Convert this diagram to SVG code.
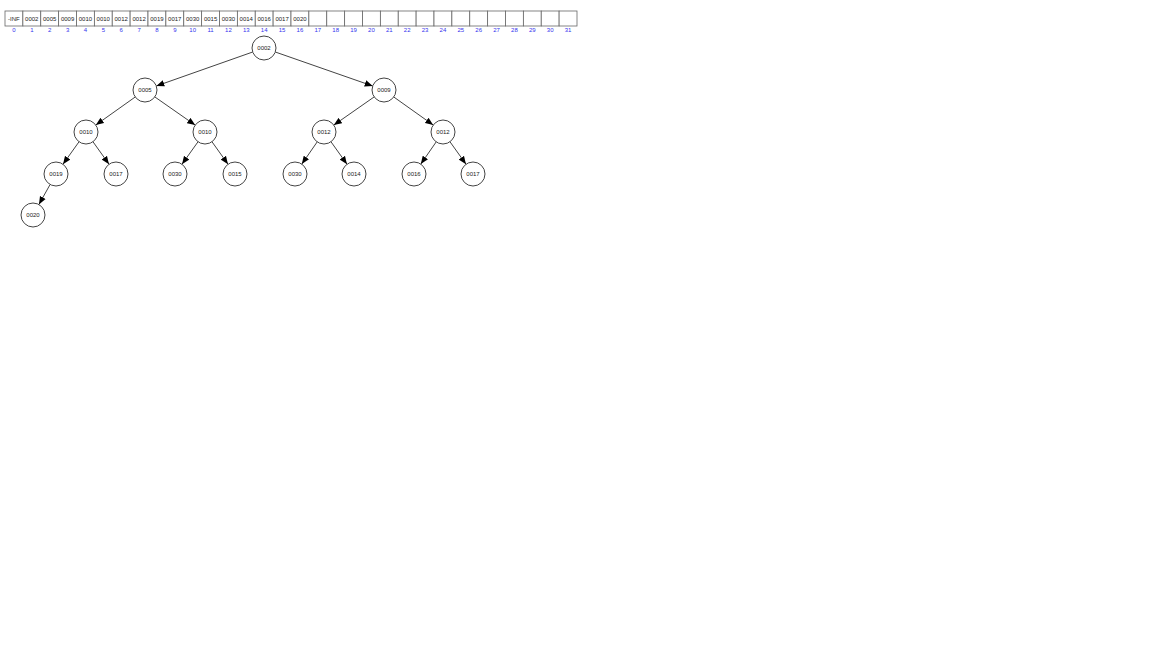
<svg xmlns="http://www.w3.org/2000/svg" width="1152" height="648" viewBox="0 0 1152 648">
<style>
.cell{fill:#fff;stroke:#666;stroke-width:0.8}
.ct{font-family:"Liberation Sans",Arial,sans-serif;font-size:6px;fill:#222;text-anchor:middle}
.idx{font-family:"Liberation Sans",Arial,sans-serif;font-size:6px;fill:#3333ee;text-anchor:middle}
.node circle{fill:#fff;stroke:#444;stroke-width:1}
.node text{font-family:"Liberation Sans",Arial,sans-serif;font-size:6px;fill:#222;text-anchor:middle}
.edges line{stroke:#444;stroke-width:1;marker-end:url(#arr)}
</style>
<defs>
<marker id="arr" viewBox="0 0 10 8" refX="10" refY="4" markerWidth="8" markerHeight="7" markerUnits="userSpaceOnUse" orient="auto">
<path d="M0,0 L10,4 L0,8 z" fill="#000"/>
</marker>
</defs>
<rect width="1152" height="648" fill="#fff"/>
<g id="array">
<rect class="cell" x="5" y="11" width="17.875" height="15"/>
<rect class="cell" x="22.875" y="11" width="17.875" height="15"/>
<rect class="cell" x="40.75" y="11" width="17.875" height="15"/>
<rect class="cell" x="58.625" y="11" width="17.875" height="15"/>
<rect class="cell" x="76.5" y="11" width="17.875" height="15"/>
<rect class="cell" x="94.375" y="11" width="17.875" height="15"/>
<rect class="cell" x="112.25" y="11" width="17.875" height="15"/>
<rect class="cell" x="130.125" y="11" width="17.875" height="15"/>
<rect class="cell" x="148" y="11" width="17.875" height="15"/>
<rect class="cell" x="165.875" y="11" width="17.875" height="15"/>
<rect class="cell" x="183.75" y="11" width="17.875" height="15"/>
<rect class="cell" x="201.625" y="11" width="17.875" height="15"/>
<rect class="cell" x="219.5" y="11" width="17.875" height="15"/>
<rect class="cell" x="237.375" y="11" width="17.875" height="15"/>
<rect class="cell" x="255.25" y="11" width="17.875" height="15"/>
<rect class="cell" x="273.125" y="11" width="17.875" height="15"/>
<rect class="cell" x="291" y="11" width="17.875" height="15"/>
<rect class="cell" x="308.875" y="11" width="17.875" height="15"/>
<rect class="cell" x="326.75" y="11" width="17.875" height="15"/>
<rect class="cell" x="344.625" y="11" width="17.875" height="15"/>
<rect class="cell" x="362.5" y="11" width="17.875" height="15"/>
<rect class="cell" x="380.375" y="11" width="17.875" height="15"/>
<rect class="cell" x="398.25" y="11" width="17.875" height="15"/>
<rect class="cell" x="416.125" y="11" width="17.875" height="15"/>
<rect class="cell" x="434" y="11" width="17.875" height="15"/>
<rect class="cell" x="451.875" y="11" width="17.875" height="15"/>
<rect class="cell" x="469.75" y="11" width="17.875" height="15"/>
<rect class="cell" x="487.625" y="11" width="17.875" height="15"/>
<rect class="cell" x="505.5" y="11" width="17.875" height="15"/>
<rect class="cell" x="523.375" y="11" width="17.875" height="15"/>
<rect class="cell" x="541.25" y="11" width="17.875" height="15"/>
<rect class="cell" x="559.125" y="11" width="17.875" height="15"/>
<text class="ct" x="13.9" y="20.5">-INF</text>
<text class="ct" x="31.8" y="20.5">0002</text>
<text class="ct" x="49.7" y="20.5">0005</text>
<text class="ct" x="67.6" y="20.5">0009</text>
<text class="ct" x="85.4" y="20.5">0010</text>
<text class="ct" x="103.3" y="20.5">0010</text>
<text class="ct" x="121.2" y="20.5">0012</text>
<text class="ct" x="139.1" y="20.5">0012</text>
<text class="ct" x="156.9" y="20.5">0019</text>
<text class="ct" x="174.8" y="20.5">0017</text>
<text class="ct" x="192.7" y="20.5">0030</text>
<text class="ct" x="210.6" y="20.5">0015</text>
<text class="ct" x="228.4" y="20.5">0030</text>
<text class="ct" x="246.3" y="20.5">0014</text>
<text class="ct" x="264.2" y="20.5">0016</text>
<text class="ct" x="282.1" y="20.5">0017</text>
<text class="ct" x="299.9" y="20.5">0020</text>
<text class="idx" x="13.9" y="32">0</text>
<text class="idx" x="31.8" y="32">1</text>
<text class="idx" x="49.7" y="32">2</text>
<text class="idx" x="67.6" y="32">3</text>
<text class="idx" x="85.4" y="32">4</text>
<text class="idx" x="103.3" y="32">5</text>
<text class="idx" x="121.2" y="32">6</text>
<text class="idx" x="139.1" y="32">7</text>
<text class="idx" x="156.9" y="32">8</text>
<text class="idx" x="174.8" y="32">9</text>
<text class="idx" x="192.7" y="32">10</text>
<text class="idx" x="210.6" y="32">11</text>
<text class="idx" x="228.4" y="32">12</text>
<text class="idx" x="246.3" y="32">13</text>
<text class="idx" x="264.2" y="32">14</text>
<text class="idx" x="282.1" y="32">15</text>
<text class="idx" x="299.9" y="32">16</text>
<text class="idx" x="317.8" y="32">17</text>
<text class="idx" x="335.7" y="32">18</text>
<text class="idx" x="353.6" y="32">19</text>
<text class="idx" x="371.4" y="32">20</text>
<text class="idx" x="389.3" y="32">21</text>
<text class="idx" x="407.2" y="32">22</text>
<text class="idx" x="425.1" y="32">23</text>
<text class="idx" x="442.9" y="32">24</text>
<text class="idx" x="460.8" y="32">25</text>
<text class="idx" x="478.7" y="32">26</text>
<text class="idx" x="496.6" y="32">27</text>
<text class="idx" x="514.4" y="32">28</text>
<text class="idx" x="532.3" y="32">29</text>
<text class="idx" x="550.2" y="32">30</text>
<text class="idx" x="568.1" y="32">31</text>
</g>
<g class="edges" id="connectors">
<line x1="252.7" y1="52" x2="156.3" y2="86"/>
<line x1="275.3" y1="52" x2="372.7" y2="86"/>
<line x1="135.2" y1="97" x2="95.8" y2="125"/>
<line x1="154.8" y1="96.9" x2="195.2" y2="125.1"/>
<line x1="374.2" y1="96.9" x2="333.8" y2="125.1"/>
<line x1="393.8" y1="97" x2="433.2" y2="125"/>
<line x1="79" y1="141.8" x2="63" y2="164.2"/>
<line x1="93" y1="141.8" x2="109" y2="164.2"/>
<line x1="198" y1="141.8" x2="182" y2="164.2"/>
<line x1="212" y1="141.8" x2="228" y2="164.2"/>
<line x1="317.2" y1="141.9" x2="301.8" y2="164.1"/>
<line x1="331" y1="141.8" x2="347" y2="164.2"/>
<line x1="436.2" y1="141.9" x2="420.8" y2="164.1"/>
<line x1="450" y1="141.8" x2="466" y2="164.2"/>
<line x1="50.1" y1="184.5" x2="38.9" y2="204.5"/>
</g>
<g id="n1" class="node"><circle cx="264" cy="48" r="12"/><text x="264" y="50">0002</text></g>
<g id="n2" class="node"><circle cx="145" cy="90" r="12"/><text x="145" y="92">0005</text></g>
<g id="n3" class="node"><circle cx="384" cy="90" r="12"/><text x="384" y="92">0009</text></g>
<g id="n4" class="node"><circle cx="86" cy="132" r="12"/><text x="86" y="134">0010</text></g>
<g id="n5" class="node"><circle cx="205" cy="132" r="12"/><text x="205" y="134">0010</text></g>
<g id="n6" class="node"><circle cx="324" cy="132" r="12"/><text x="324" y="134">0012</text></g>
<g id="n7" class="node"><circle cx="443" cy="132" r="12"/><text x="443" y="134">0012</text></g>
<g id="n8" class="node"><circle cx="56" cy="174" r="12"/><text x="56" y="176">0019</text></g>
<g id="n9" class="node"><circle cx="116" cy="174" r="12"/><text x="116" y="176">0017</text></g>
<g id="n10" class="node"><circle cx="175" cy="174" r="12"/><text x="175" y="176">0030</text></g>
<g id="n11" class="node"><circle cx="235" cy="174" r="12"/><text x="235" y="176">0015</text></g>
<g id="n12" class="node"><circle cx="295" cy="174" r="12"/><text x="295" y="176">0030</text></g>
<g id="n13" class="node"><circle cx="354" cy="174" r="12"/><text x="354" y="176">0014</text></g>
<g id="n14" class="node"><circle cx="414" cy="174" r="12"/><text x="414" y="176">0016</text></g>
<g id="n15" class="node"><circle cx="473" cy="174" r="12"/><text x="473" y="176">0017</text></g>
<g id="n16" class="node"><circle cx="33" cy="215" r="12"/><text x="33" y="217">0020</text></g>
</svg>
